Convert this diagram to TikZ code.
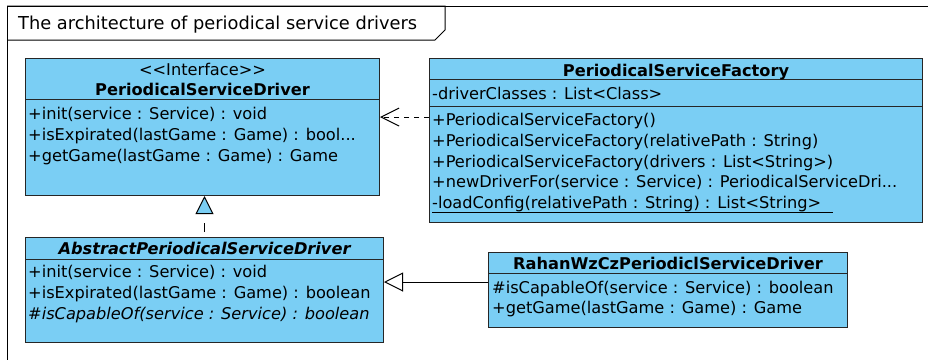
\documentclass[tikz,border=0pt]{standalone}
\usepackage{fontspec}
\setmainfont{DejaVu Sans}
\usetikzlibrary{arrows.meta}
\definecolor{classblue}{RGB}{122,206,244}

\tikzset{
  classbox/.style={draw=black!85, fill=classblue, line width=1pt, anchor=north west, inner sep=0pt},
  member/.style={anchor=base west, inner sep=0pt, font=\fontsize{16.2}{20}\selectfont},
  classname/.style={anchor=base, inner sep=0pt, font=\fontsize{16.2}{20}\selectfont\bfseries},
  divider/.style={draw=black!85, line width=1pt},
}

\begin{document}
\begin{tikzpicture}[x=1pt,y=-1pt]
\useasboundingbox (0,0) rectangle (928,360);
% frame with its tab
\draw[line width=1pt] (928,6) -| (7,360);
\draw[line width=1pt] (7,6) -- (445,6) -- (445,30) -- (435,40) -- (7,40);
\node[member, font=\fontsize{17.8}{22}\selectfont] (frametitle) at (18,29) {The architecture of periodical service drivers};

% interface
\node[classbox, minimum width=354pt, minimum height=137pt] (driver) at (25,58) {};
\draw[divider] (driver.west |- 0,99) -- (driver.east |- 0,99);
\node[anchor=base, inner sep=0pt, font=\fontsize{16.2}{20}\selectfont] (stereo) at (driver.north |- 0,75) {<{}<Interface>{}>};
\node[classname] (drivername) at (driver.north |- 0,95) {PeriodicalServiceDriver};
\node[member] (dinit) at (28,119) {+init(service : Service) : void};
\node[member] (dexp) at (28,140) {+isExpirated(lastGame : Game) : bool...};
\node[member] (dgame) at (28,161) {+getGame(lastGame : Game) : Game};

% factory
\node[classbox, minimum width=493pt, minimum height=164pt] (factory) at (429,58) {};
\draw[divider] (factory.west |- 0,79) -- (factory.east |- 0,79);
\draw[divider] (factory.west |- 0,106) -- (factory.east |- 0,106);
\node[classname] (factoryname) at (factory.north |- 0,76) {PeriodicalServiceFactory};
\node[member] (fclasses) at (432,99) {-driverClasses : List<Class>};
\node[member] (fnew) at (432,125) {+PeriodicalServiceFactory()};
\node[member] (fpath) at (432,146) {+PeriodicalServiceFactory(relativePath : String)};
\node[member] (flist) at (432,167) {+PeriodicalServiceFactory(drivers : List<String>)};
\node[member] (ffor) at (432,187) {+newDriverFor(service : Service) : PeriodicalServiceDri...};
\node[member] (fload) at (432,208) {-loadConfig(relativePath : String) : List<String>};
\draw[line width=1pt] (fload.base west |- 0,212) -- (833,212);

% abstract driver
\node[classbox, minimum width=358pt, minimum height=105pt] (abstract) at (25,237) {};
\draw[divider] (abstract.west |- 0,259) -- (abstract.east |- 0,259);
\node[classname, font=\fontsize{16.2}{20}\selectfont\bfseries\itshape] (abstractname) at (abstract.north |- 0,254) {AbstractPeriodicalServiceDriver};
\node[member] (ainit) at (28,277) {+init(service : Service) : void};
\node[member] (aexp) at (28,298) {+isExpirated(lastGame : Game) : boolean};
\node[member, font=\fontsize{16.2}{20}\selectfont\itshape] (acap) at (28,319) {\#isCapableOf(service : Service) : boolean};

% concrete driver
\node[classbox, minimum width=359pt, minimum height=75pt] (rahan) at (488,252) {};
\draw[divider] (rahan.west |- 0,273) -- (rahan.east |- 0,273);
\node[classname] (rahanname) at (rahan.north |- 0,269) {RahanWzCzPeriodiclServiceDriver};
\node[member] (rcap) at (492,293) {\#isCapableOf(service : Service) : boolean};
\node[member] (rgame) at (492,313) {+getGame(lastGame : Game) : Game};

% relations
\draw[line width=1pt, dash pattern=on 5pt off 5pt, -{Straight Barb[length=18pt,width=18pt]}] (factory.west |- 0,117) -- (driver.east |- 0,117);
\draw[line width=1pt, dash pattern=on 9pt off 14pt, dash phase=18pt, -{Triangle[length=18pt,width=18pt,fill=classblue]}] (abstract.north) -- (abstract.north |- driver.south);
\draw[line width=1pt, -{Triangle[length=19pt,width=19pt,fill=white]}] (rahan.west |- 0,282) -- (abstract.east |- 0,282);
\end{tikzpicture}
\end{document}
